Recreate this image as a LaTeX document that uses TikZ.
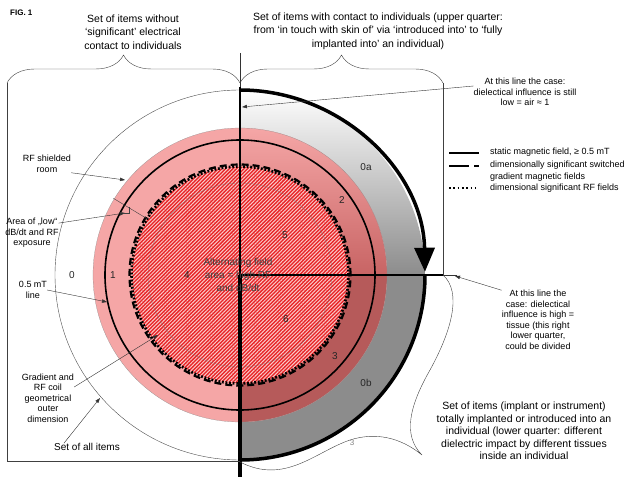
\documentclass[tikz,border=0pt]{standalone}
\usepackage{fontspec}
\setmainfont{Liberation Sans}
\usetikzlibrary{arrows.meta,decorations.pathreplacing,patterns.meta}

\definecolor{roomPink}{RGB}{245,166,166}
\definecolor{roomRed}{RGB}{200,100,100}
\definecolor{tissueRose}{RGB}{182,90,90}
\definecolor{coilRed}{RGB}{232,36,38}
\definecolor{stripePink}{RGB}{250,200,200}
\definecolor{bodyGray}{RGB}{140,140,140}

\begin{document}
\begin{tikzpicture}[x=1pt,y=1pt,
    headtext/.style={align=center,inner sep=0pt,font=\fontsize{10.5}{13.5}\selectfont},
    note/.style={align=center,inner sep=0pt,font=\fontsize{9}{10.5}\selectfont},
    num/.style={inner sep=0pt,text=black!85,font=\fontsize{10}{12}\selectfont},
    legendtext/.style={anchor=west,align=left,inner sep=0pt,font=\fontsize{9}{11.5}\selectfont},
    pointer/.style={black!80,thin,-{Triangle[length=5pt,width=3.5pt]}},
    coilstripes/.style={pattern={Lines[angle=45,distance=2.6pt,line width=1pt]},pattern color=stripePink},
    gradline/.style={line width=2.2pt,dash pattern=on 7pt off 4pt},
    rfline/.style={line width=2.6pt,dash pattern=on 1.8pt off 1.8pt}]
  \useasboundingbox (0,0) rectangle (627,477);
  \coordinate (c) at (240,202);

  % outer ring, right half
  \shade[shading angle=45,top color=white,middle color=black!20,bottom color=bodyGray] (240,387)
    arc[start angle=90,end angle=0,radius=185] -- (387,202)
    arc[start angle=0,end angle=90,radius=147] -- cycle;
  \fill[bodyGray] (425,202) arc[start angle=0,end angle=-90,radius=185] -- (240,55)
    arc[start angle=-90,end angle=0,radius=147] -- cycle;

  % shielded room
  \fill[roomPink] (c) circle[radius=147];
  \shade[shading angle=45,top color=roomPink,bottom color=roomRed] (c) -- (240,349)
    arc[start angle=90,end angle=0,radius=147] -- cycle;
  \fill[tissueRose] (c) -- (387,202) arc[start angle=0,end angle=-90,radius=147] -- cycle;
  \draw[black!45,very thin] (c) circle[radius=147];

  % coil
  \fill[coilRed] (c) circle[radius=108];
  \fill[coilstripes] (c) circle[radius=108];
  \draw[black!55,very thin] (c) circle[radius=92];
  \draw[line width=1.6pt] (c) circle[radius=135];
  \draw[rfline] (c) circle[radius=108.5];
  \draw[gradline] (c) circle[radius=110.5];

  \draw[black!70] (240,387) arc[start angle=90,end angle=270,radius=185];
  \draw[line width=3.5pt,-{Triangle[length=24pt,width=20pt]}] (240,387)
    arc[start angle=90,end angle=1,radius=185];
  \draw[line width=3.5pt] (425,202) arc[start angle=0,end angle=-90,radius=185];

  \draw[black!80] (240,424) -- (240,390);
  \draw[line width=1.2pt] (240,390) -- (c);
  \draw[line width=4pt] (c) -- (240,0);
  \draw[line width=1.2pt] (c) -- (443,202);
  \draw[black!80] (443,202) -- (457,202);

  % braces and frame
  \draw[black!75] (7,394) -- (7,16) -- (240,16);
  \draw[black!75] (443,394) -- (443,202);
  \draw[black!75,decorate,decoration={brace,amplitude=28pt}] (7,394) -- (240,394);
  \draw[black!75,decorate,decoration={brace,amplitude=28pt}] (240,394) -- (443,394);
  \draw[black!75] (443,202) .. controls (462,185) and (452,147) .. (430,107)
    .. controls (410,72) and (402,42) .. (422,22)
    .. controls (400,40) and (375,45) .. (350,37)
    .. controls (315,25) and (285,-8) .. (240,15);

  \node[anchor=west,inner sep=0pt,font=\bfseries\fontsize{8}{10}\selectfont] (fig) at (10,464) {FIG. 1};
  \node[headtext] (without) at (133,445) {Set of items without\\‘significant’ electrical\\contact to individuals};
  \node[headtext] (contact) at (378,446) {Set of items with contact to individuals (upper quarter:\\from ‘in touch with skin of’ via ‘introduced into’ to ‘fully\\implanted into’ an individual)};
  \node[align=center,inner sep=0pt,font=\fontsize{10.5}{12.5}\selectfont] (inside) at (524,46) {Set of items (implant or instrument)\\totally implanted or introduced into an\\individual (lower quarter: different\\dielectric impact by different tissues\\inside an individual};

  \node[num] (z0) at (72,202) {0};
  \node[num] (z1) at (113,202) {1};
  \node[num] (z4) at (187,202) {4};
  \node[num] (z0a) at (366,310) {0a};
  \node[num] (z2) at (342,277) {2};
  \node[num] (z5) at (285,242) {5};
  \node[num] (z6) at (286,158) {6};
  \node[num] (z3) at (335,121) {3};
  \node[num] (z0b) at (366,94) {0b};
  \node[num,text=black!50,font=\fontsize{8}{10}\selectfont] (z3b) at (352,34) {3};
  \node[align=center,inner sep=0pt,text=black!75,font=\fontsize{10}{13}\selectfont] (acfield) at (238,202) {Alternating field\\area = high RF\\and dB/dt};

  % annotations
  \node[note] (lowair) at (525,385) {At this line the case:\\dielectical influence is still\\low = air ≈ 1};
  \coordinate (lowairtip) at (242,370);
  \draw[pointer] ([yshift=6pt]lowair.west) -- (lowairtip);
  \node[note] (tissue) at (538,157) {At this line the\\case: dielectical\\influence is high =\\tissue (this right\\lower quarter,\\could be divided};
  \coordinate (tissuetip) at (455,201);
  \draw[pointer] (tissue.north west) -- (tissuetip);
  \node[note] (shield) at (47,313) {RF shielded\\room};
  \coordinate (shieldtip) at (125,297);
  \draw[pointer] (shield.south east) -- (shieldtip);
  \node[note] (lowexp) at (32,244) {Area of „low“\\dB/dt and RF\\exposure};
  \coordinate (lowexptip) at (125,264);
  \draw[pointer] ([yshift=-5pt]lowexp.north east) -- (lowexptip);
  \draw[black!75] ([shift={(148.8:108)}]c) -- ([shift={(148.8:148)}]c);
  \draw[black!75] (123,264) -- (129,264) -- (129,270);
  \node[note] (mtline) at (33,187) {0.5 mT\\line};
  \coordinate (mtlinetip) at (107,175);
  \draw[pointer] (mtline.east) -- (mtlinetip);
  \node[note] (coil) at (48,79) {Gradient and\\RF coil\\geometrical\\outer\\dimension};
  \coordinate (coiltip) at (158,142);
  \draw[pointer] ([yshift=11pt]coil.east) -- (coiltip);
  \node[inner sep=0pt,font=\fontsize{10}{12}\selectfont] (allitems) at (87,30) {Set of all items};
  \coordinate (allitemstip) at (100,79);
  \draw[pointer] ([xshift=10pt]allitems.north west) -- (allitemstip);

  % legend
  \draw[line width=1.6pt] (449,324) -- (479,324);
  \node[legendtext] (lgstatic) at (490,325) {static magnetic field, ≥ 0.5 mT};
  \draw[line width=1.6pt,dash pattern=on 20pt off 5pt on 5pt off 20pt] (449,311) -- (479,311);
  \node[legendtext] (lggrad) at (490,306) {dimensionally significant switched\\gradient magnetic fields};
  \draw[line width=1.6pt,dash pattern=on 1.6pt off 2.7pt] (449,289) -- (479,289);
  \node[legendtext] (lgrf) at (490,289) {dimensional significant RF fields};
\end{tikzpicture}
\end{document}
